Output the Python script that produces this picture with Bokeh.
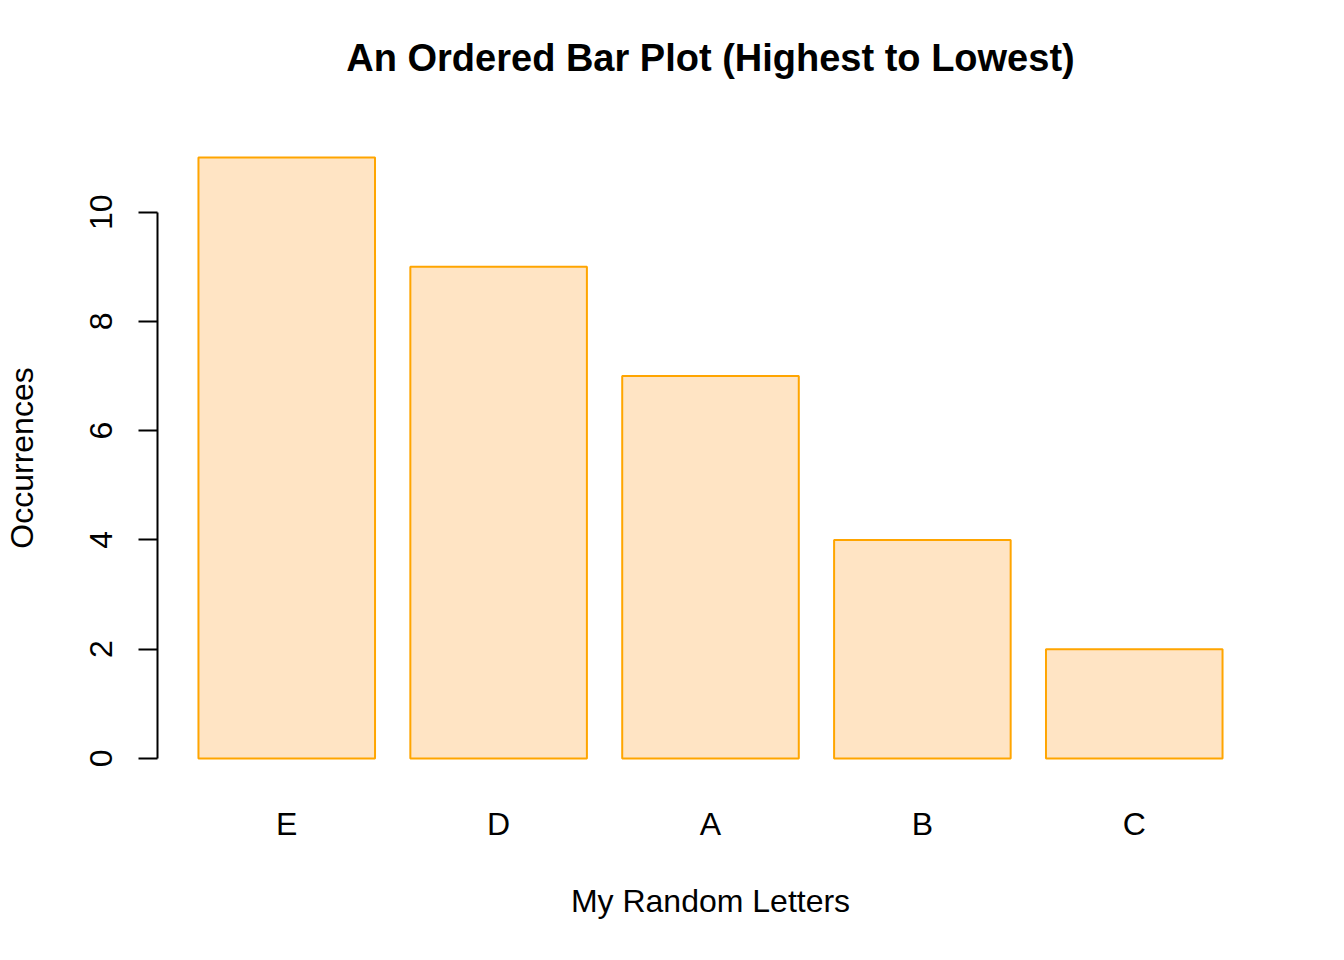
from bokeh.plotting import figure
from bokeh.models import FixedTicker, ColumnDataSource, Title
from bokeh.embed import file_html
from bokeh.resources import INLINE

title_text = "An Ordered Bar Plot (Highest to Lowest)"
letters = ["E", "D", "A", "B", "C"]
counts = [11, 9, 7, 4, 2]
y_ticks = [0, 2, 4, 6, 8, 10]

# R barplot geometry: width 1, space 0.2
bar_width = 1.0
space = 0.2
centers = [space + i * (bar_width + space) + bar_width / 2 for i in range(len(letters))]
x_lo = space
x_hi = len(letters) * (bar_width + space)
x_pad = (x_hi - x_lo) * 0.04
y_max = max(counts)
y_pad = y_max * 0.04

src = ColumnDataSource(dict(x=centers, top=counts, label=letters))

FONT = "Liberation Sans"

p = figure(width=1336, height=952, output_backend="svg", toolbar_location=None,
           x_range=(x_lo - x_pad, x_hi + x_pad), y_range=(-y_pad, y_max + y_pad),
           min_border_left=157, min_border_right=73, min_border_top=133, min_border_bottom=170,
           title=title_text)

p.vbar(x="x", top="top", bottom=0, width=bar_width, source=src,
       fill_color="bisque", line_color="orange", line_width=2)

p.outline_line_color = None
p.xgrid.visible = False
p.ygrid.visible = False
p.background_fill_color = "white"
p.border_fill_color = "white"

p.title.align = "center"
p.title.vertical_align = "top"
p.title.text_font = FONT
p.title.text_font_size = "38px"
p.title.text_font_style = "bold"
p.title.text_color = "black"
p.title.standoff = 66

# blank spacer between title and plot region
p.add_layout(Title(text=" ", text_font_size="1px", standoff=17), "above")

# x axis: labels only
xa = p.xaxis[0]
xa.ticker = FixedTicker(ticks=centers)
xa.major_label_overrides = {c: l for c, l in zip(centers, letters)}
xa.axis_line_color = None
xa.major_tick_line_color = None
xa.minor_tick_line_color = None
xa.major_tick_out = 0
xa.major_tick_in = 0
xa.major_label_text_font = FONT
xa.major_label_text_font_size = "32px"
xa.major_label_text_color = "black"
xa.major_label_standoff = 23
xa.axis_label = "My Random Letters"
xa.axis_label_text_font = FONT
xa.axis_label_text_font_size = "32px"
xa.axis_label_text_font_style = "normal"
xa.axis_label_text_color = "black"
xa.axis_label_standoff = 38

ya = p.yaxis[0]
ya.ticker = FixedTicker(ticks=y_ticks)
ya.bounds = (min(y_ticks), max(y_ticks))
ya.axis_line_color = "black"
ya.axis_line_width = 2
ya.major_tick_line_color = "black"
ya.major_tick_line_width = 2
ya.major_tick_out = 19
ya.major_tick_in = 0
ya.minor_tick_line_color = None
ya.major_label_orientation = "vertical"
ya.major_label_text_font = FONT
ya.major_label_text_font_size = "32px"
ya.major_label_text_color = "black"
ya.major_label_standoff = 26
ya.axis_label = "Occurrences"
ya.axis_label_text_font = FONT
ya.axis_label_text_font_size = "32px"
ya.axis_label_text_font_style = "normal"
ya.axis_label_text_color = "black"
ya.axis_label_standoff = 48

open("out.html", "w").write(file_html(p, INLINE))
